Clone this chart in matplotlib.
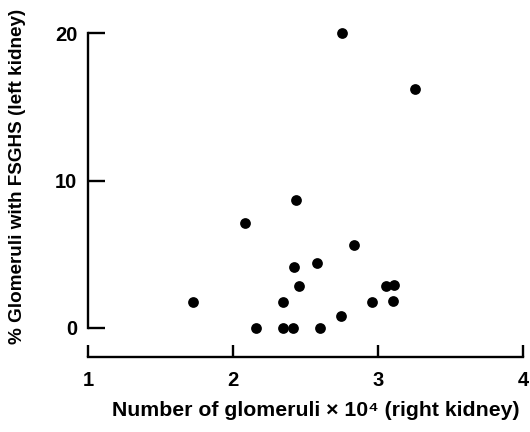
import matplotlib
matplotlib.use("Agg")
import matplotlib.pyplot as plt

glomeruli_x = [1.72, 2.08, 2.43, 2.16, 2.345, 2.345, 2.41, 2.42, 2.45, 2.58,
               2.60, 2.74, 2.83, 2.96, 3.05, 3.11, 3.10, 2.75, 3.25]
fsghs_pct = [1.75, 7.15, 8.7, 0.0, 1.75, 0.0, 0.0, 4.15, 2.85, 4.4,
             0.0, 0.8, 5.65, 1.75, 2.85, 2.9, 1.85, 20.0, 16.2]
x_ticks = [1, 2, 3, 4]
y_ticks = [0, 10, 20]

plt.rcParams['font.family'] = ['Liberation Sans', 'DejaVu Sans']

fig = plt.figure(figsize=(5.3, 4.32), dpi=100)
ax = fig.add_axes([88.3/530, 1-356.7/432, (523.3-88.3)/530, (356.7-33.3)/432])
ax.scatter(glomeruli_x, fsghs_pct, s=60, color='black', clip_on=False, zorder=3, linewidths=0)
ax.set_xlim(1, 4)
ax.set_ylim(-1.95, 20)
ax.spines['top'].set_visible(False)
ax.spines['right'].set_visible(False)
ax.spines['left'].set_bounds(0, 20)
for sp in ('left', 'bottom'):
    ax.spines[sp].set_linewidth(1.7)
ax.set_xticks(x_ticks)
ax.set_yticks(y_ticks)
ax.set_xticklabels([str(t) for t in x_ticks])
ax.set_yticklabels([str(t) for t in y_ticks])
ax.tick_params(axis='x', direction='in', length=9, width=1.7, pad=10, labelsize=14.5)
ax.tick_params(axis='y', direction='in', length=12, width=1.7, pad=8, labelsize=14.5)
for lab in ax.get_xticklabels() + ax.get_yticklabels():
    lab.set_fontweight('bold')

fig.text(316/530, 1-410/432, 'Number of glomeruli \u00d7 10\u2074 (right kidney)',
         ha='center', va='center', fontsize=15.3, fontweight='bold')
fig.text(18/530, 1-176/432, '% Glomeruli with FSGHS (left kidney)',
         ha='center', va='center', rotation=90, fontsize=13.6, fontweight='bold')

fig.savefig('out.png', dpi=100)
